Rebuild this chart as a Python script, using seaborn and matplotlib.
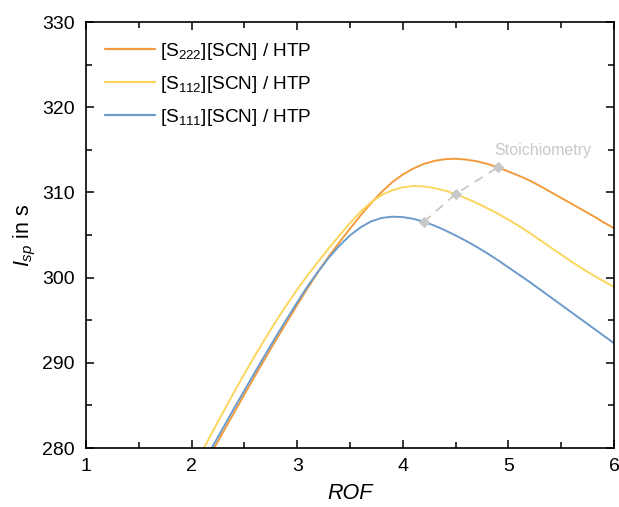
import numpy as np
import pandas as pd
import seaborn as sns
import matplotlib
matplotlib.use("Agg")
import matplotlib.pyplot as plt
from matplotlib.ticker import MultipleLocator

# Specific impulse vs. oxidizer-to-fuel ratio for three ionic liquid / HTP propellants
rof = [2.0, 2.1, 2.2, 2.3, 2.4, 2.5, 2.6, 2.7, 2.8, 2.9,
       3.0, 3.1, 3.2, 3.3, 3.4, 3.5, 3.6, 3.7, 3.8, 3.9,
       4.0, 4.1, 4.2, 4.3, 4.4, 4.5, 4.6, 4.7, 4.8, 4.9,
       5.0, 5.1, 5.2, 5.3, 5.4, 5.5, 5.6, 5.7, 5.8, 5.9, 6.0]
isp_s222 = [275.3, 277.5, 279.7, 281.9, 284.1, 286.3, 288.45, 290.6, 292.7, 294.75,
            296.8, 298.8, 300.7, 302.5, 304.15, 305.75, 307.3, 308.75, 310.05, 311.2,
            312.1, 312.8, 313.35, 313.7, 313.9, 313.95, 313.85, 313.65, 313.35, 312.95,
            312.45, 311.95, 311.4, 310.75, 310.05, 309.35, 308.65, 307.95, 307.25, 306.5, 305.8]
isp_s112 = [277.2, 279.6, 281.95, 284.25, 286.5, 288.7, 290.85, 292.9, 294.9, 296.8,
            298.6, 300.3, 301.9, 303.45, 304.95, 306.4, 307.75, 308.85, 309.7, 310.25,
            310.6, 310.75, 310.7, 310.5, 310.2, 309.8, 309.3, 308.75, 308.15, 307.5,
            306.8, 306.05, 305.25, 304.4, 303.55, 302.7, 301.85, 301.05, 300.3, 299.6, 298.9]
isp_s111 = [275.7, 277.95, 280.2, 282.4, 284.6, 286.75, 288.9, 291.0, 293.1, 295.1,
            297.1, 299.0, 300.75, 302.35, 303.75, 304.95, 305.9, 306.6, 307.0, 307.15,
            307.1, 306.9, 306.55, 306.1, 305.55, 304.95, 304.3, 303.6, 302.85, 302.05,
            301.2, 300.35, 299.5, 298.6, 297.7, 296.8, 295.9, 295.0, 294.1, 293.2, 292.3]

labels = ["[S$_{222}$][SCN] / HTP", "[S$_{112}$][SCN] / HTP", "[S$_{111}$][SCN] / HTP"]
colors = ["#F39B3C", "#FCD65C", "#6B9BCB"]

# Stoichiometric points (S111, S112, S222)
stoich_rof = [4.2, 4.5, 4.9]
stoich_isp = [306.55, 309.8, 312.95]

x_ticks = [1, 2, 3, 4, 5, 6]
y_ticks = [280, 290, 300, 310, 320, 330]

df = pd.concat([
    pd.DataFrame({"ROF": rof, "Isp": vals, "mix": lab})
    for vals, lab in zip([isp_s222, isp_s112, isp_s111], labels)
])

sns.set_theme(style="ticks")
plt.rcParams["font.family"] = ["Liberation Sans", "DejaVu Sans"]
plt.rcParams["mathtext.fontset"] = "custom"
plt.rcParams["mathtext.rm"] = "Liberation Sans"
plt.rcParams["mathtext.it"] = "Liberation Sans:italic"
plt.rcParams["mathtext.bf"] = "Liberation Sans:bold"
plt.rcParams["text.color"] = "black"
plt.rcParams["axes.labelcolor"] = "black"
plt.rcParams["xtick.color"] = "black"
plt.rcParams["ytick.color"] = "black"
plt.rcParams["lines.solid_joinstyle"] = "round"

fig = plt.figure(figsize=(6.19, 5.07), dpi=100)
ax = fig.add_axes([86 / 619, 1 - 448 / 507, (614 - 86) / 619, (448 - 22) / 507])

sns.lineplot(data=df, x="ROF", y="Isp", hue="mix", hue_order=labels,
             palette=colors, linewidth=1.4, ax=ax, sort=False)

sns.lineplot(x=stoich_rof, y=stoich_isp, ax=ax, color="#C8C8C8",
             linestyle=(0, (5, 4)), linewidth=1.3, marker="D", markersize=5,
             markeredgecolor="#C8C8C8", zorder=5)
ax.text(4.87, 314.4, "Stoichiometry", color="#C8C8C8", fontsize=11.5,
        ha="left", va="baseline")

ax.set_xlim(1, 6)
ax.set_ylim(280, 330)
ax.set_xticks(x_ticks)
ax.set_yticks(y_ticks)
ax.xaxis.set_minor_locator(MultipleLocator(0.5))
ax.yaxis.set_minor_locator(MultipleLocator(5))
ax.tick_params(which="both", direction="in", top=True, right=True,
               width=1.1, colors="black", labelsize=14)
ax.tick_params(which="major", length=6)
ax.tick_params(which="minor", length=4)
ax.tick_params(axis="x", which="major", pad=7)
ax.tick_params(axis="y", which="major", pad=8)
for sp in ax.spines.values():
    sp.set_linewidth(1.2)
    sp.set_color("black")

ax.set_xlabel("ROF", fontsize=15.5, style="italic", labelpad=6)
ax.set_ylabel("$I_{sp}$ in s", fontsize=15.5, labelpad=3)

leg = ax.legend(loc="upper left", frameon=False, fontsize=13.7,
                handlelength=2.6, handletextpad=0.3, labelspacing=0.62,
                borderaxespad=0.6, bbox_to_anchor=(0.0, 1.0))
for line in leg.get_lines():
    line.set_linewidth(1.6)

fig.savefig("out.png", dpi=100)
